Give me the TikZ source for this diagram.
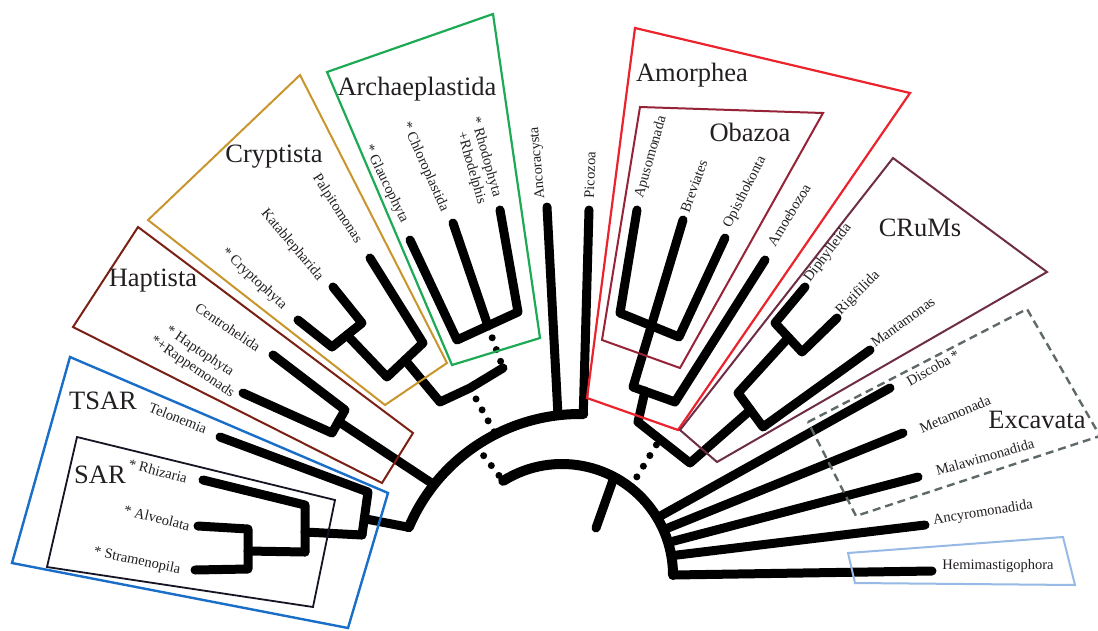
\documentclass[tikz,border=0pt]{standalone}
\usepackage{fontspec}
\setmainfont{Liberation Serif}
\usetikzlibrary{calc}
\definecolor{txt}{HTML}{231F20}
\definecolor{colTSAR}{RGB}{25,110,200}
\definecolor{colSAR}{RGB}{20,20,35}
\definecolor{colHap}{RGB}{122,32,20}
\definecolor{colCry}{RGB}{200,150,45}
\definecolor{colArc}{RGB}{30,170,85}
\definecolor{colAmo}{RGB}{235,35,45}
\definecolor{colOba}{RGB}{150,35,55}
\definecolor{colCRu}{RGB}{110,45,70}
\definecolor{colExc}{RGB}{95,105,105}
\definecolor{colHem}{RGB}{150,185,230}
\begin{document}
\begin{tikzpicture}[x=1pt,y=-1pt,
  branch/.style={line width=9pt,line cap=round,line join=round,black},
  arcline/.style={line width=10pt,line cap=round,black},
  dotline/.style={line width=7pt,line cap=round,dash pattern=on 0pt off 12.5pt,black},
  grp/.style={font=\fontsize{26.5}{30}\selectfont,text=txt,inner sep=0pt},
  tip/.style={font=\fontsize{14.5}{17}\selectfont,text=txt,inner sep=0pt,align=left},
  box/.style={line width=2pt,line join=miter}]
\useasboundingbox (0,0) rectangle (1098,630);
\fill[white] (0,0) rectangle (1098,630);
% ---------- arcs centres
\coordinate (O1) at (580,600);
\coordinate (O2) at (562,575);
\coordinate (a1) at ($(O1)+(-157:186)$);
\coordinate (aHap) at ($(O1)+(-141.7:186)$);
\coordinate (aRoot) at ($(O1)+(-124:186)$);
\coordinate (aDia) at ($(O1)+(-117:186)$);
\coordinate (aAnc) at ($(O1)+(-96.8:186)$);
\coordinate (aPic) at ($(O1)+(-89:186)$);
\coordinate (bStart) at ($(O2)+(-122:111)$);
\coordinate (bStub) at ($(O2)+(-62:111)$);
\coordinate (bDot) at ($(O2)+(-52:111)$);
\coordinate (bDis) at ($(O2)+(-31:111)$);
\coordinate (bMet) at ($(O2)+(-24:111)$);
\coordinate (bMal) at ($(O2)+(-17:111)$);
\coordinate (bAnc) at ($(O2)+(-10:111)$);
\coordinate (bHem) at ($(O2)+(0:111)$);
% ---------- TSAR
\coordinate (tRhi) at (203,480);
\coordinate (cRhi) at (305,505);
\coordinate (tAlv) at (198,526);
\coordinate (cAlv) at (248,529);
\coordinate (tStr) at (195,570);
\coordinate (cStr) at (248,569);
\coordinate (nAS) at ($(cAlv)!0.55!(cStr)$);
\coordinate (cAS) at (305,552);
\coordinate (nSAR) at (305,532);
\coordinate (cSAR) at (362,535);
\coordinate (tTel) at (220,437);
\coordinate (cTel) at (368,492);
\coordinate (nTSAR) at ($(cTel)!0.62!(cSAR)$);
% ---------- Haptista
\coordinate (tCen) at (273,355);
\coordinate (cCen) at (345,410);
\coordinate (tHap) at (243,393);
\coordinate (cHap) at (332,433);
\coordinate (nHap) at ($(cCen)!0.5!(cHap)$);
% ---------- Cryptista
\coordinate (tCry) at (298,320);
\coordinate (cCry) at (332,347);
\coordinate (tKat) at (333,287);
\coordinate (cKat) at (362,323);
\coordinate (nCK) at ($(cCry)!0.5!(cKat)$);
\coordinate (cCK) at (387,377);
\coordinate (tPal) at (370,258);
\coordinate (cPal) at (423,343);
\coordinate (nCr) at ($(cCK)!0.5!(cPal)$);
\coordinate (cCr) at (440,402);
\coordinate (nDia) at (470,388);
\coordinate (cArch) at (503,368);
% ---------- Archaeplastida
\coordinate (tGla) at (410,240);
\coordinate (cGla) at (457,340);
\coordinate (tChl) at (453,223);
\coordinate (cChl) at (488,326);
\coordinate (tRho) at (500,210);
\coordinate (cRho) at (518,312);
% ---------- Ancoracysta, Picozoa
\coordinate (tAnc) at (547,207);
\coordinate (tPic) at (589,210);
% ---------- Amorphea
\coordinate (tApu) at (637,210);
\coordinate (cApu) at (620,313);
\coordinate (tOpi) at (725,238);
\coordinate (cOpi) at (679,337);
\coordinate (tBre) at (683,220);
\coordinate (cBre) at (633,387);
\coordinate (tAmo) at (765,260);
\coordinate (cAmo) at (675,402);
\coordinate (nAm) at (645,391);
\coordinate (cAm) at (638,422);
\coordinate (cPod) at (690,463);
\coordinate (nPod) at ($(cAm)!0.42!(cPod)$);
% ---------- CRuMs
\coordinate (tDip) at (805,287);
\coordinate (cDip) at (775,323);
\coordinate (tRig) at (837,318);
\coordinate (cRig) at (802,352);
\coordinate (nDR) at ($(cDip)!0.5!(cRig)$);
\coordinate (cDR) at (738,393);
\coordinate (tMan) at (870,350);
\coordinate (cMan) at (763,427);
\coordinate (nCR) at ($(cDR)!0.5!(cMan)$);
% ---------- others
\coordinate (tDis) at (890,388);
\coordinate (tMet) at (903,433);
\coordinate (tMal) at (918,477);
\coordinate (tAcy) at (925,525);
\coordinate (tHem) at (932,571);
\coordinate (stubEnd) at (596,528);

% ================= tree
\draw[arcline] (a1) arc[start angle=-157,end angle=-89,radius=186];
\draw[arcline] (bStart) arc[start angle=-122,end angle=0,radius=111];
% TSAR
\draw[branch] (tRhi) -- (cRhi) -- (cAS);
\draw[branch] (tAlv) -- (cAlv) -- (cStr) -- (tStr);
\draw[branch] (nAS) -- (cAS);
\draw[branch] (nSAR) -- (cSAR);
\draw[branch] (tTel) -- (cTel) -- (cSAR);
\draw[branch] (nTSAR) -- (a1);
% Haptista
\draw[branch] (tCen) -- (cCen) -- (cHap) -- (tHap);
\draw[branch] (nHap) -- (aHap);
% Cryptista
\draw[branch] (tCry) -- (cCry) -- (cKat) -- (tKat);
\draw[branch] (nCK) -- (cCK) -- (cPal) -- (tPal);
\draw[branch] (nCr) -- (cCr) -- (nDia) -- (cArch);
% Archaeplastida
\draw[branch] (tGla) -- (cGla) -- (cRho) -- (tRho);
\draw[branch] (tChl) -- (cChl);
\draw[dotline] (cChl) -- (cArch);
\draw[dotline] (nDia) -- (aDia);
\draw[dotline] (aRoot) -- (bStart);
% Ancoracysta, Picozoa
\draw[branch] (tAnc) -- (aAnc);
\draw[branch] (tPic) -- (aPic);
% Amorphea
\draw[branch] (tApu) -- (cApu) -- (cOpi) -- (tOpi);
\draw[branch] (tBre) -- (cBre) -- (cAmo) -- (tAmo);
\draw[branch] (nAm) -- (cAm) -- (cPod) -- (nCR);
\draw[dotline] (bDot) -- (nPod);
% CRuMs
\draw[branch] (tDip) -- (cDip) -- (cRig) -- (tRig);
\draw[branch] (nDR) -- (cDR) -- (cMan) -- (tMan);
% stub and fan
\draw[branch] (bStub) -- (stubEnd);
\draw[branch] (bDis) -- (tDis);
\draw[branch] (bMet) -- (tMet);
\draw[branch] (bMal) -- (tMal);
\draw[branch] (bAnc) -- (tAcy);
\draw[branch] (bHem) -- (tHem);

% ================= boxes
\draw[box,colTSAR,line width=2.4pt] (70,357) -- (388,493) -- (348,628) -- (12,563) -- cycle;
\draw[box,colSAR,line width=1.8pt] (77,437) -- (335,500) -- (313,607) -- (47,567) -- cycle;
\draw[box,colHap] (138,227) -- (413,433) -- (382,483) -- (73,327) -- cycle;
\draw[box,colCry] (300,75) -- (447,363) -- (385,405) -- (148,220) -- cycle;
\draw[box,colArc,line width=2.2pt] (327,72) -- (493,14) -- (540,338) -- (452,365) -- cycle;
\draw[box,colAmo,line width=2.2pt] (635,28) -- (910,93) -- (678,430) -- (587,398) -- cycle;
\draw[box,colOba] (640,107) -- (823,113) -- (680,368) -- (602,340) -- cycle;
\draw[box,colCRu] (893,158) -- (1047,272) -- (717,462) -- (680,430) -- cycle;
\draw[box,colExc,line width=2.4pt,dash pattern=on 8pt off 5pt] (808,422) -- (1027,309) -- (1100,436) -- (856,516) -- cycle;
\draw[box,colHem] (848,553) -- (1063,537) -- (1075,585) -- (855,583) -- cycle;

% ================= group labels
\node[grp] (gTSAR) at (103,401) {TSAR};
\node[grp] (gSAR) at (100,475) {SAR};
\node[grp] (gHap) at (153,281) {Haptista};
\node[grp] (gCry) at (274,157) {Cryptista};
\node[grp] (gArc) at (417,89) {Archaeplastida};
\node[grp] (gAmo) at (692,75) {Amorphea};
\node[grp] (gOba) at (750,132) {Obazoa};
\node[grp] (gCRu) at (920,228) {CRuMs};
\node[grp] (gExc) at (1037,420) {Excavata};

% ================= tip labels
\node[tip,rotate=-22] (lTel) at (178,418) {Telonemia};
\node[tip,rotate=-15] (lRhi) at (158,471) {* Rhizaria};
\node[tip,rotate=-14] (lAlv) at (157,518) {* Alveolata};
\node[tip,rotate=-12] (lStr) at (137,561) {* Stramenopila};
\node[tip,rotate=-34] (lCen) at (228,327) {Centrohelida};
\node[tip,rotate=-34] (lHap) at (197,360) {\hspace*{7pt}* Haptophyta\\*+Rappemonads};
\node[tip,rotate=-43] (lCry) at (254,279) {* Cryptophyta};
\node[tip,rotate=-50] (lKat) at (292,245) {Katablepharida};
\node[tip,rotate=-57] (lPal) at (337,209) {Palpitomonas};
\node[tip,rotate=-64] (lGla) at (386,184) {* Glaucophyta};
\node[tip,rotate=-66] (lChl) at (425,167) {* Chloroplastida};
\node[tip,rotate=-74] (lRho) at (478,161) {* Rhodophyta\\\phantom{* }+Rhodelphis};
\node[tip,rotate=95] (lAnc) at (538,163) {Ancoracysta};
\node[tip,rotate=88] (lPic) at (590,175) {Picozoa};
\node[tip,rotate=74] (lApu) at (651,157) {Apusomonada};
\node[tip,rotate=70] (lBre) at (694,186) {Breviates};
\node[tip,rotate=63] (lOpi) at (745,192) {Opisthokonta};
\node[tip,rotate=59] (lAmo) at (789,215) {Amoebozoa};
\node[tip,rotate=53] (lDip) at (828,253) {Diphylleida};
\node[tip,rotate=45] (lRig) at (858,293) {Rigifilida};
\node[tip,rotate=36] (lMan) at (903,322) {Mantamonas};
\node[tip,rotate=30] (lDis) at (933,368) {Discoba *};
\node[tip,rotate=23] (lMet) at (955,414) {Metamonada};
\node[tip,rotate=16] (lMal) at (985,457) {Malawimonadida};
\node[tip,rotate=9] (lAcy) at (983,513) {Ancyromonadida};
\node[tip] (lHem) at (998,566) {Hemimastigophora};
\end{tikzpicture}
\end{document}
